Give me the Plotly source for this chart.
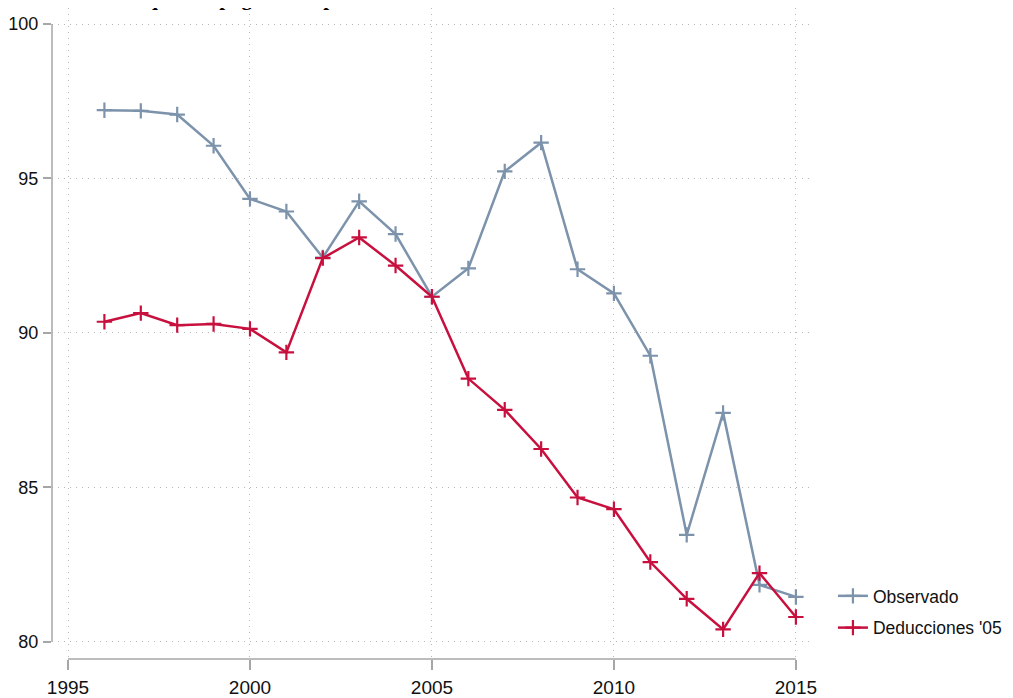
import plotly.graph_objects as go

years = list(range(1996, 2016))
observado = [97.21, 97.19, 97.07, 96.06, 94.34, 93.93, 92.44, 94.26, 93.20, 91.17,
             92.09, 95.23, 96.16, 92.06, 91.28, 89.26, 83.46, 87.41, 81.84, 81.45]
deducciones = [90.36, 90.64, 90.25, 90.29, 90.13, 89.37, 92.42, 93.09, 92.18, 91.17,
               88.52, 87.51, 86.24, 84.67, 84.29, 82.58, 81.39, 80.40, 82.22, 80.80]
x_ticks = [1995, 2000, 2005, 2010, 2015]
y_ticks = [80, 85, 90, 95, 100]
title_text = "Evolución de quienes pagan el impuesto"

FONT = "Liberation Sans, Arial, sans-serif"
C_OBS = "#7c93ab"
C_DED = "#c8103e"
AX = "#a6a6a6"
GRID = "#b8b8b8"

fig = go.Figure()
for name, vals, col, grp in [("Observado", observado, C_OBS, "a"),
                             ("Deducciones '05", deducciones, C_DED, "b")]:
    fig.add_trace(go.Scatter(
        x=years, y=vals, name=name, mode="lines+markers", legendgroup=grp,
        line=dict(color=col, width=2.5),
        marker=dict(symbol="cross-thin", size=11, line=dict(color=col, width=2.2), color=col),
    ))

# the page body adds an 8px offset; figure size and margins compensate for it
fig.update_layout(
    width=997, height=690,
    margin=dict(l=44, r=192, t=0, b=39, autoexpand=False),
    paper_bgcolor="white", plot_bgcolor="white",
    font=dict(family=FONT, size=19, color="#111111"),
    showlegend=True,
    legend=dict(x=1.0262, xanchor="left", y=0.02, yanchor="bottom",
                font=dict(size=17.5), bgcolor="rgba(0,0,0,0)", tracegroupgap=6),
    xaxis=dict(range=[1994.56, 2015.47], tickvals=x_ticks, ticktext=[str(v) for v in x_ticks],
               showline=False, zeroline=False, showgrid=True, gridcolor=GRID, griddash="1px,5px",
               gridwidth=1, ticks="outside", ticklen=10, tickwidth=1.5, tickcolor=AX,
               ticklabelstandoff=1, automargin=False),
    yaxis=dict(range=[79.44, 100.52], tickvals=y_ticks, ticktext=[str(v) for v in y_ticks],
               showline=False, zeroline=False, showgrid=True, gridcolor=GRID, griddash="1px,5px",
               gridwidth=1, ticks="outside", ticklen=8, tickwidth=1.5, tickcolor=AX,
               ticklabelstandoff=1, automargin=False, tickfont=dict(size=18)),
)
# title, cut off at the top edge as in the reference
fig.add_annotation(text="<b>" + title_text + "</b>", xref="paper", yref="paper",
                   x=-0.038, xanchor="left", y=1.0154, yanchor="middle", showarrow=False,
                   font=dict(family="Liberation Serif, Times New Roman, serif", size=21, color="black"))
# detached axis lines (Stata style)
fig.add_shape(type="line", xref="x", yref="paper", x0=x_ticks[0], x1=x_ticks[-1], y0=0, y1=0,
              line=dict(color=AX, width=1.5))
fig.add_shape(type="line", xref="paper", yref="y", x0=0, x1=0, y0=y_ticks[0], y1=y_ticks[-1],
              line=dict(color=AX, width=1.5))

fig.write_html("out.html")
